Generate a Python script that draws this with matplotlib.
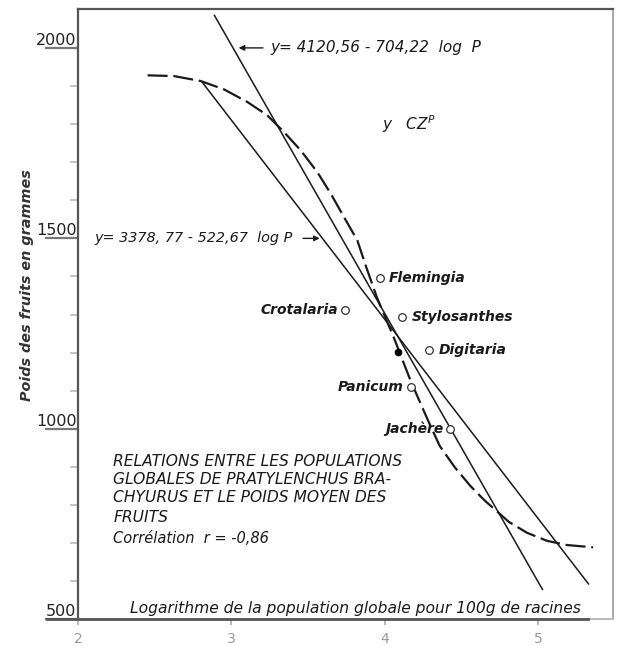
import numpy as np
import matplotlib
matplotlib.use("Agg")
import matplotlib.pyplot as plt

plt.rcParams['font.family'] = ['DejaVu Sans']

# open circles : log population / fruit weight (g)
names = ["Flemingia", "Crotalaria", "Stylosanthes", "Digitaria", "Panicum", "Jachère"]
logp = [3.97, 3.74, 4.115, 4.29, 4.17, 4.43]
poids = [1395, 1312, 1294, 1207, 1109, 999]
# filled point
mean_x, mean_y = 4.09, 1201

# regression lines y = a - b log P  (drawn range)
eq1 = (4120.56, 704.22, 2.89, 5.03)
eq2 = (3378.77, 522.67, 2.81, 5.33)

# dashed curve y = C Z^P
curve_x = [2.454, 2.627, 2.801, 2.953, 3.105, 3.235, 3.344, 3.453, 3.561,
           3.648, 3.735, 3.822, 3.88, 3.95, 4.06, 4.17, 4.29, 4.36, 4.46,
           4.56, 4.65, 4.81, 4.93, 5.06, 5.19, 5.36]
curve_y = [1928, 1926, 1913, 1891, 1858, 1823, 1779, 1731, 1674,
           1618, 1556, 1495, 1425, 1345, 1240, 1126, 1016, 955, 898,
           850, 813, 756, 727, 706, 695, 689]

yticks = [500, 1000, 1500, 2000]
xticks = [2, 3, 4, 5]

fig = plt.figure(figsize=(6.17, 6.46), dpi=100)
ax = fig.add_axes([0.1264, 0.0413, 0.8671, 0.9447])
ax.set_xlim(2, 5.49)
ax.set_ylim(500, 2102)

ink = "#1a1a1a"
for a, b, x0, x1 in (eq1, eq2):
    xs = np.array([x0, x1])
    ax.plot(xs, a - b * xs, color=ink, lw=1.1)

ax.plot(curve_x, curve_y, color=ink, lw=1.6, dashes=(9, 2.6))

ax.plot(logp, poids, "o", mfc="white", mec="#333333", ms=5.5, mew=0.9, zorder=5)
ax.plot(mean_x, mean_y, "o", color="black", ms=4.5, zorder=5)

lab_font = dict(style="italic", weight="bold", fontsize=10, color=ink)
offs = {"Flemingia": (0.06, "left"), "Crotalaria": (-0.045, "right"),
        "Stylosanthes": (0.06, "left"), "Digitaria": (0.06, "left"),
        "Panicum": (-0.045, "right"), "Jachère": (-0.045, "right")}
for n, x, y in zip(names, logp, poids):
    dx, ha = offs[n]
    ax.text(x + dx, y, n, ha=ha, va="center", **lab_font)

ax.annotate("", xy=(3.03, 2000), xytext=(3.225, 2000),
            arrowprops=dict(arrowstyle="-|>", color=ink, lw=1.0, mutation_scale=8))
ax.text(3.257, 2000, "y= 4120,56 - 704,22  log  P", ha="left", va="center",
        style="italic", fontsize=11, color=ink)
ax.annotate("", xy=(3.595, 1500), xytext=(3.45, 1500),
            arrowprops=dict(arrowstyle="-|>", color=ink, lw=1.0, mutation_scale=8))
ax.text(2.11, 1500, "y= 3378, 77 - 522,67  log P", ha="left", va="center",
        style="italic", fontsize=10.4, color=ink)
ax.text(3.98, 1800, "y   CZ$^P$", ha="left", va="center",
        style="italic", fontsize=11, color=ink)

block = ["RELATIONS ENTRE LES POPULATIONS",
         "GLOBALES DE PRATYLENCHUS BRA-",
         "CHYURUS ET LE POIDS MOYEN DES",
         "FRUITS"]
block_y = [913, 868, 821, 766]
for line, y in zip(block, block_y):
    ax.text(2.23, y, line, ha="left", va="center", style="italic", fontsize=11.2,
            color=ink)
ax.text(2.23, 713, "Corrélation  r = -0,86", ha="left", va="center",
        style="italic", fontsize=10.5, color=ink)

ax.text(2.34, 529, "Logarithme de la population globale pour 100g de racines",
        ha="left", va="center", style="italic", fontsize=11.2, color=ink)

fig.text(0.044, 0.559, "Poids des fruits en grammes", rotation=90, ha="center",
         va="center", style="italic", weight="bold", fontsize=10.4, color="#333333")

# axes and ticks
ax.set_yticks(yticks)
ax.set_yticklabels([str(t) for t in yticks], fontsize=11.5, color="#222222")
ax.set_yticks(np.arange(600, 2100, 100), minor=True)
ax.tick_params(axis="y", which="major", direction="out", length=24, width=1.6,
               color="#777777", pad=-23)
ax.tick_params(axis="y", which="minor", direction="out", length=6, width=1.2,
               color="#bbbbbb")
for t in ax.get_yticklabels():
    t.set_verticalalignment("bottom")

ax.set_xticks(xticks)
ax.set_xticklabels([str(t) for t in xticks], fontsize=10, color="#999999")
ax.tick_params(axis="x", direction="out", length=4, width=1.2, color="#aaaaaa", pad=5)

for s in ["top", "left"]:
    ax.spines[s].set_linewidth(1.6)
    ax.spines[s].set_color("#555555")
ax.spines["right"].set_linewidth(1.4)
ax.spines["right"].set_color("#aaaaaa")
ax.spines["bottom"].set_linewidth(1.4)
ax.spines["bottom"].set_color("#bbbbbb")
ax.plot([1.8, 5.33], [500, 500], color="#555555", lw=2.0, clip_on=False, zorder=6)

fig.savefig("out.png", dpi=100)
